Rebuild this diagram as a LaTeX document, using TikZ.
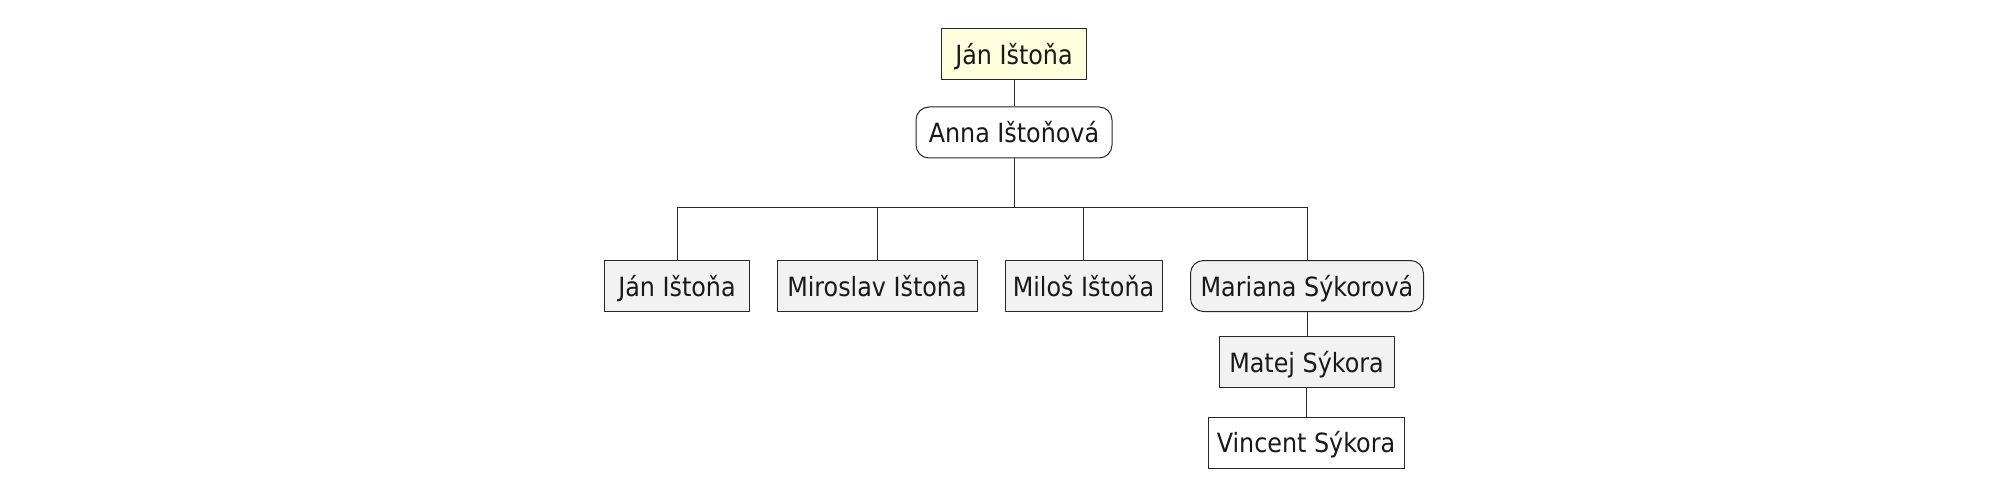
\documentclass[tikz,border=0pt]{standalone}
\usepackage{fontspec}
\setmainfont{DejaVu Sans Condensed}
\begin{document}
\begin{tikzpicture}[x=1pt,y=-1pt]
\definecolor{rootyellow}{HTML}{FFFFDD}
\definecolor{boxgray}{HTML}{F2F2F2}
\tikzset{
  person/.style={draw=black!85, line width=1pt, minimum height=51pt, inner sep=0pt, text height=20.5pt, text depth=0pt, font=\fontsize{26.5}{30}\selectfont, text=black!90},
  spouse/.style={person, rounded corners=13pt},
  link/.style={draw=black!85, line width=1pt}
}
\fill[white] (0,0) rectangle (2000,489);
\useasboundingbox (0,0) rectangle (2000,489);
\node[person, fill=rootyellow, minimum width=145pt] (jan0) at (1014,54.5) {Ján Ištoňa};
\node[spouse, fill=white, minimum width=196pt] (anna) at (1014,132.5) {Anna Ištoňová};
\node[person, fill=boxgray, minimum width=145pt] (jan1) at (677,286) {Ján Ištoňa};
\node[person, fill=boxgray, minimum width=200pt] (miro) at (877,286) {Miroslav Ištoňa};
\node[person, fill=boxgray, minimum width=157pt] (milo) at (1083.5,286) {Miloš Ištoňa};
\node[spouse, fill=boxgray, minimum width=233pt] (mari) at (1307,286) {Mariana Sýkorová};
\node[person, fill=boxgray, minimum width=175pt] (mate) at (1306.5,362) {Matej Sýkora};
\node[person, fill=white, minimum width=196pt] (vinc) at (1306,442.5) {Vincent Sýkora};
\coordinate (bus) at (0,208);
\draw[link] (jan0.south) -- (anna.north);
\draw[link] (anna.south) -- (anna.south |- bus);
\draw[link] (jan1.north) -- (jan1.north |- bus) -- (mari.north |- bus) -- (mari.north);
\draw[link] (miro.north) -- (miro.north |- bus);
\draw[link] (milo.north) -- (milo.north |- bus);
\draw[link] (mari.south) -- (mari.south |- mate.north);
\draw[link] (mate.south) -- (mate.south |- vinc.north);
\end{tikzpicture}
\end{document}
